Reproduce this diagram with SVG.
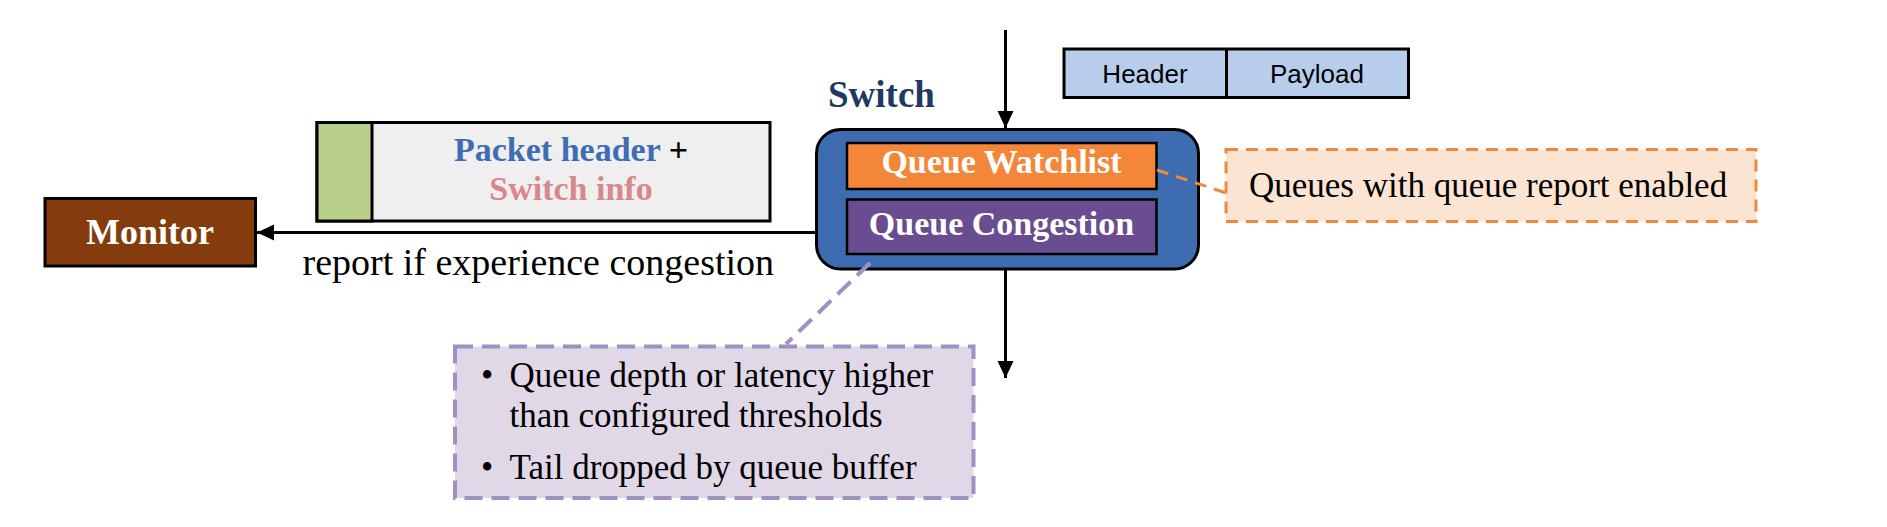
<svg xmlns="http://www.w3.org/2000/svg" width="1887" height="527" viewBox="0 0 1887 527">
<style>
.serif{font-family:"Liberation Serif","Times New Roman",serif}
.sans{font-family:"Liberation Sans",Arial,sans-serif}
.b{font-weight:bold}
.box{stroke:#000;stroke-width:3}
.conn{stroke:#000;stroke-width:3;fill:none}
</style>
<defs>
<marker id="arr" markerUnits="userSpaceOnUse" markerWidth="18" markerHeight="17" refX="17" refY="8" orient="auto">
<path d="M0,0 L17,8 L0,16 z" fill="#000"/>
</marker>
</defs>
<rect width="1887" height="527" fill="#fff"/>

<g id="connectors">
<line class="conn" x1="1005.5" y1="30" x2="1005.5" y2="128" marker-end="url(#arr)"/>
<line class="conn" x1="1005.5" y1="269" x2="1005.5" y2="378" marker-end="url(#arr)"/>
<line class="conn" x1="816" y1="232.5" x2="257" y2="232.5" marker-end="url(#arr)"/>
</g>

<g id="monitor">
<rect class="box" x="45" y="198.5" width="210.5" height="67.5" fill="#843C0C"/>
<text class="serif b" x="150" y="244" font-size="36" fill="#fff" text-anchor="middle">Monitor</text>
</g>

<g id="report-packet">
<rect class="box" x="317" y="122.5" width="453" height="98.5" fill="#EFEFEF"/>
<rect class="box" x="317" y="122.5" width="55" height="98.5" fill="#B9D08B"/>
<text class="serif b" x="571" y="161" font-size="34" text-anchor="middle"><tspan fill="#3F6DB5">Packet header</tspan><tspan fill="#000"> +</tspan></text>
<text class="serif b" x="571" y="200" font-size="34" fill="#D9868C" text-anchor="middle">Switch info</text>
</g>

<text id="report-label" class="serif" x="302.5" y="275" font-size="38">report if experience congestion</text>

<g id="packet">
<rect class="box" x="1064" y="49" width="344.5" height="48.5" fill="#B8CDEB"/>
<line x1="1226.5" y1="49" x2="1226.5" y2="97.5" stroke="#000" stroke-width="3"/>
<text class="sans" x="1145" y="83" font-size="26" text-anchor="middle">Header</text>
<text class="sans" x="1317" y="83" font-size="26" text-anchor="middle">Payload</text>
</g>

<g id="switch">
<text class="serif b" x="828" y="107" font-size="37" fill="#1F3864">Switch</text>
<rect x="816.5" y="129.5" width="382" height="139.5" rx="24" ry="24" fill="#3D6CB0" stroke="#000" stroke-width="3"/>
<rect x="847" y="143" width="309.5" height="46" fill="#F4863A" stroke="#000" stroke-width="2.5"/>
<text class="serif b" x="1001.5" y="173" font-size="34" fill="#fff" text-anchor="middle">Queue Watchlist</text>
<rect x="847" y="199.5" width="309.5" height="54.5" fill="#6A4D90" stroke="#000" stroke-width="2.5"/>
<text class="serif b" x="1001.5" y="235" font-size="34" fill="#fff" text-anchor="middle">Queue Congestion</text>
</g>

<g id="watchlist-note">
<line x1="1157" y1="170" x2="1226" y2="193" stroke="#F0883E" stroke-width="3" stroke-dasharray="12 8"/>
<rect x="1226" y="149.5" width="530" height="72" fill="#FCE4D3" stroke="#F0883E" stroke-width="3" stroke-dasharray="12 8"/>
<text class="serif" x="1249" y="196.5" font-size="35">Queues with queue report enabled</text>
</g>

<g id="congestion-note">
<line x1="870" y1="263" x2="786" y2="344" stroke="#A091C3" stroke-width="4" stroke-dasharray="18 9"/>
<rect x="455" y="346.5" width="518.5" height="151.5" fill="#E0D7E7" stroke="#A091C3" stroke-width="4" stroke-dasharray="18 9"/>
<text class="serif" font-size="35">
<tspan x="481" y="386.5">•</tspan><tspan x="509.5" y="386.5">Queue depth or latency higher</tspan>
<tspan x="509.5" y="426.5">than configured thresholds</tspan>
<tspan x="481" y="479">•</tspan><tspan x="509.5" y="479">Tail dropped by queue buffer</tspan>
</text>
</g>
</svg>
